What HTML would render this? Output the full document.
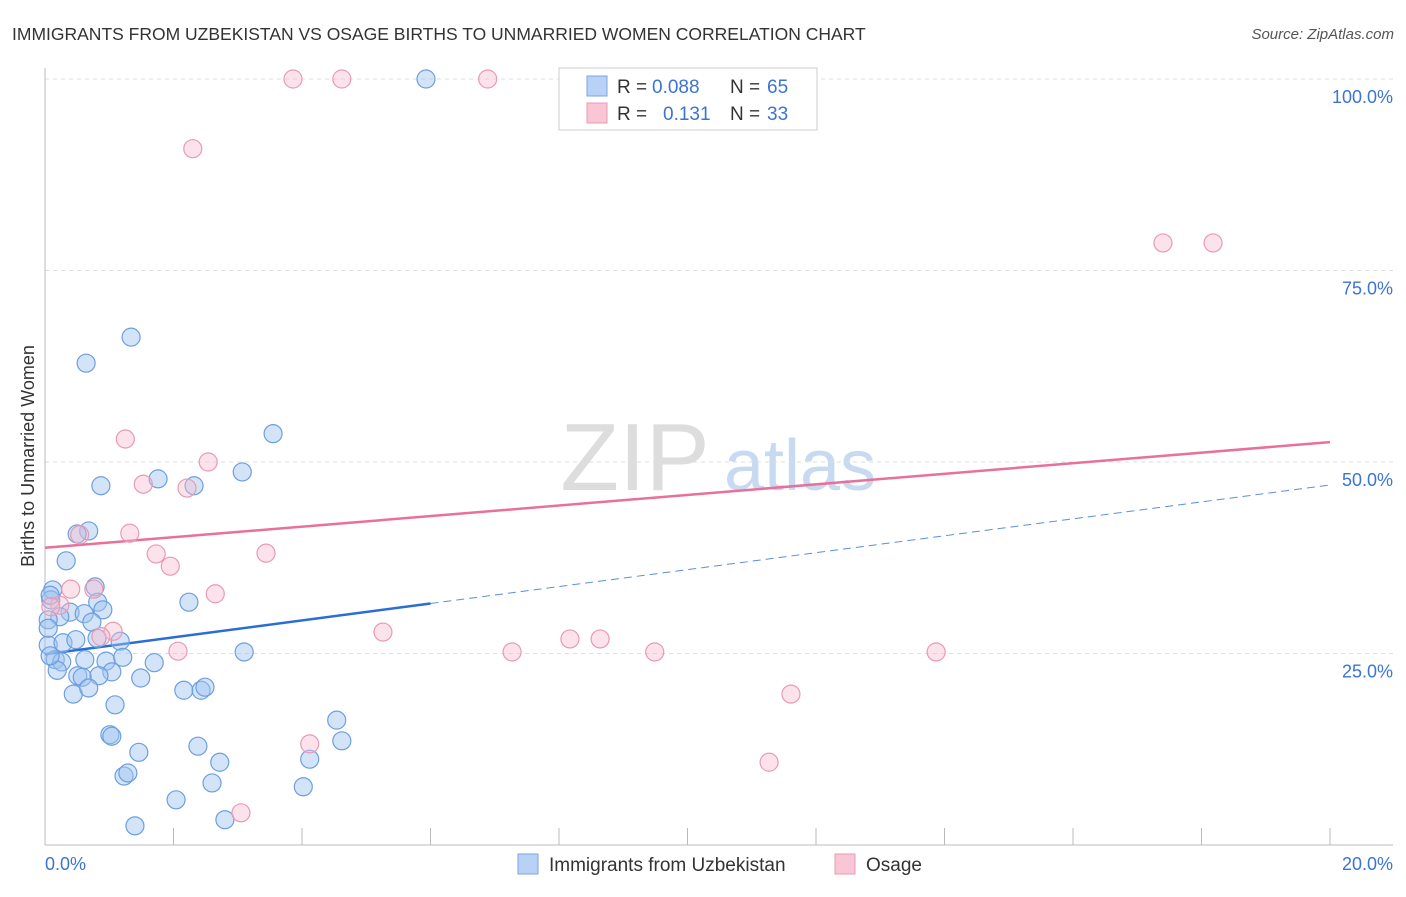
<!DOCTYPE html>
<html><head><meta charset="utf-8"><style>
body{margin:0;background:#fff;font-family:"Liberation Sans",sans-serif;}
svg text{font-family:"Liberation Sans",sans-serif;}
</style></head><body>
<svg id="chart" width="1406" height="892" xmlns="http://www.w3.org/2000/svg">
<text x="12" y="40" font-size="17.5" fill="#333">IMMIGRANTS FROM UZBEKISTAN VS OSAGE BIRTHS TO UNMARRIED WOMEN CORRELATION CHART</text>
<text x="1394" y="39" font-size="15" fill="#555" font-style="italic" text-anchor="end">Source: ZipAtlas.com</text>
<g><text x="635" y="490" font-size="96" fill="#ddd" font-family="Liberation Serif" text-anchor="middle">ZIP</text><text x="800" y="490" font-size="72" fill="#c8daf2" text-anchor="middle">atlas</text></g>
<g id="grid"></g>
<g id="axes"></g>
<g id="trend"></g>
<g id="pts"></g>
<text transform="translate(34,456) rotate(-90)" font-size="18" fill="#333" text-anchor="middle">Births to Unmarried Women</text>
<text x="45" y="870" font-size="18" fill="#3b74d4">0.0%</text>
<text x="1393" y="870" font-size="18" fill="#3b74d4" text-anchor="end">20.0%</text>
<g>
<rect x="559" y="68" width="258" height="62" fill="#fff" stroke="#ccc"/>
<rect x="587" y="76" width="20" height="20" fill="#b8d2f5" stroke="#7aa6e0"/>
<text x="617" y="93" font-size="19" fill="#333">R =</text>
<text x="652" y="93" font-size="19" fill="#3b74d4">0.088</text>
<text x="730" y="93" font-size="19" fill="#333">N =</text>
<text x="767" y="93" font-size="19" fill="#3b74d4">65</text>
<rect x="587" y="103" width="20" height="20" fill="#f9c6d5" stroke="#e89ab4"/>
<text x="617" y="120" font-size="19" fill="#333">R =</text>
<text x="663" y="120" font-size="19" fill="#3b74d4">0.131</text>
<text x="730" y="120" font-size="19" fill="#333">N =</text>
<text x="767" y="120" font-size="19" fill="#3b74d4">33</text>
</g>
<g>
<rect x="518" y="854" width="20" height="20" fill="#b8d2f5" stroke="#7aa6e0"/>
<text x="549" y="871" font-size="19" fill="#333">Immigrants from Uzbekistan</text>
<rect x="835" y="854" width="20" height="20" fill="#f9c6d5" stroke="#e89ab4"/>
<text x="866" y="871" font-size="19" fill="#333">Osage</text>
</g>
</svg>
<script>
const yTicks=[25,50,75,100];
const yTickLabels=["25.0%","50.0%","75.0%","100.0%"];
const blueX=[5.93,1.34,0.64,3.55,3.07,1.76,0.87,2.32,0.68,0.50,0.33,0.12,0.78,0.82,2.24,0.90,0.39,0.61,0.23,0.05,0.73,1.17,0.05,0.28,0.81,0.48,3.10,0.16,0.26,0.62,0.95,1.21,1.70,0.19,1.04,0.51,0.58,0.84,1.49,0.44,0.68,2.16,2.43,2.49,1.09,4.54,1.01,1.04,1.46,2.38,4.62,4.12,2.72,1.23,1.29,2.60,4.02,2.04,2.80,1.40,0.09,0.08,0.08,0.05];
const blueY=[100,66.3,62.9,53.7,48.7,47.8,46.9,46.9,41.0,40.6,37.1,33.3,33.7,31.7,31.7,30.7,30.4,30.2,29.8,29.4,29.1,26.6,26.1,26.4,27.0,26.8,25.2,24.2,23.9,24.2,24.0,24.5,23.8,22.8,22.6,22.1,21.9,22.1,21.8,19.7,20.5,20.2,20.2,20.6,18.3,16.3,14.4,14.2,12.1,12.9,13.6,11.2,10.8,9.0,9.4,8.1,7.6,5.9,3.3,2.5,32.0,32.6,24.7,28.3];
const pinkX=[3.86,4.62,6.89,2.30,17.40,18.18,1.25,2.54,1.53,2.21,1.32,0.54,1.73,3.44,1.95,0.40,0.76,2.65,0.23,0.09,1.06,0.87,5.26,2.07,7.27,8.17,8.64,9.49,13.87,11.61,4.12,11.27,3.05];
const pinkY=[100,100,100,90.9,78.6,78.6,53.0,50.0,47.1,46.6,40.7,40.5,38.0,38.1,36.4,33.4,33.4,32.8,31.3,31.1,27.9,27.2,27.8,25.3,25.2,26.9,26.9,25.2,25.2,19.7,13.2,10.8,4.2];
const blueTrend=[24.9,47.0];
const pinkTrend=[38.8,52.6];
const NS="http://www.w3.org/2000/svg";
const sx=v=>45+v*64.25, sy=v=>845-v*7.66;
function mk(t,a,p){const e=document.createElementNS(NS,t);for(const k in a)e.setAttribute(k,a[k]);p.appendChild(e);return e;}
const grid=document.getElementById('grid');
yTicks.forEach((t,i)=>{
 const l=mk('line',{x1:45,x2:1393,y1:sy(t),y2:sy(t),stroke:'#ddd','stroke-dasharray':'4,4'},grid);
 
 
 const tx=mk('text',{x:1393,y:sy(t)+24,'font-size':18,fill:'#3b74d4','text-anchor':'end'},grid);
 tx.textContent=yTickLabels[i];
 
 
});
const ax=document.getElementById('axes');
mk('line',{x1:45,x2:45,y1:68,y2:845,stroke:'#bbb'},ax);
mk('line',{x1:45,x2:1393,y1:845,y2:845,stroke:'#bbb'},ax);
for(let i=0;i<=10;i++){const t=mk('line',{x1:sx(i*2),x2:sx(i*2),y1:828,y2:845,stroke:'#bbb'},ax);
 
 }
const tr=document.getElementById('trend');
let l1=mk('line',{x1:sx(0),y1:sy(pinkTrend[0]),x2:sx(20),y2:sy(pinkTrend[1]),stroke:'#e8709a','stroke-width':2.5},tr);


const bAt=x=>blueTrend[0]+(blueTrend[1]-blueTrend[0])*x/20;
let l2=mk('line',{x1:sx(0),y1:sy(bAt(0)),x2:sx(6),y2:sy(bAt(6)),stroke:'#2a6dd6','stroke-width':2.5},tr);


let l3=mk('line',{x1:sx(6),y1:sy(bAt(6)),x2:sx(20),y2:sy(bAt(20)),stroke:'#5a8ee0','stroke-width':1,'stroke-dasharray':'8,5'},tr);


const pts=document.getElementById('pts');
blueX.forEach((x,i)=>{const c=mk('circle',{cx:sx(x),cy:sy(blueY[i]),r:9,fill:'rgba(160,196,240,0.45)',stroke:'#6c9fe0','stroke-width':1.2},pts);
 
 });
pinkX.forEach((x,i)=>{const c=mk('circle',{cx:sx(x),cy:sy(pinkY[i]),r:9,fill:'rgba(248,185,205,0.4)',stroke:'#e89ab4','stroke-width':1.2},pts);
 
 });
</script>
</body></html>
